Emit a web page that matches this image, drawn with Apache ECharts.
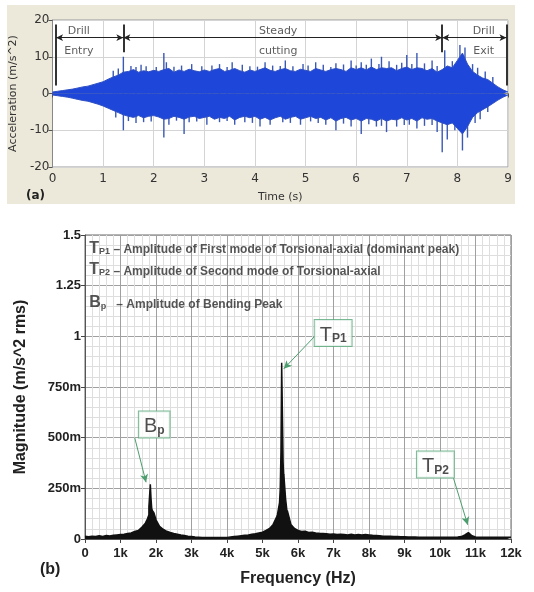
<!DOCTYPE html>
<html>
<head>
<meta charset="utf-8">
<script src="https://cdn.jsdelivr.net/npm/echarts@6/dist/echarts.min.js"></script>
<style>
  body { margin: 0; background: #fff; }
  #main { width: 534px; height: 592px; }
</style>
</head>
<body>
<div id="main"></div>
<script>
// (a) time signal, one sample every 0.1 s from 0 to 9 s
let timeStep = 0.1
let coreUpper = [
  0.4, 0.6, 0.8, 1.0, 1.2, 1.5, 1.8, 2.0, 2.4, 2.8,
  3.2, 3.9, 4.5, 5.0, 5.8, 6.0, 6.5, 5.8, 6.2, 5.9,
  6.3, 6.0, 6.5, 6.8, 5.8, 6.4, 6.0, 6.6, 6.2, 5.9,
  6.4, 6.0, 6.5, 6.8, 6.0, 6.3, 6.8, 6.2, 5.8, 6.4,
  6.0, 6.5, 7.0, 6.3, 6.0, 6.5, 6.8, 6.2, 6.0, 6.6,
  6.3, 6.0, 6.8, 6.4, 6.0, 6.5, 6.8, 6.5, 6.0, 7.0,
  6.5, 7.0, 6.4, 7.2, 6.5, 7.0, 6.8, 7.0, 6.2, 6.8,
  7.2, 6.5, 7.0, 6.8, 6.2, 6.8, 5.8, 6.5, 7.5, 7.0,
  9.0, 11.0, 8.0, 6.0, 5.0, 4.2, 3.8, 2.8, 1.8, 1.0,
  0.4
]
let coreLower = [
  -0.4, -0.6, -0.8, -1.0, -1.3, -1.6, -1.9, -2.1, -2.5, -2.9,
  -3.4, -4.0, -4.6, -5.2, -5.8, -6.2, -6.5, -6.0, -6.6, -6.2,
  -6.0, -6.4, -7.0, -6.8, -6.2, -6.5, -7.0, -6.4, -6.2, -6.8,
  -6.5, -6.2, -7.0, -6.5, -6.8, -6.2, -7.2, -6.5, -6.2, -6.6,
  -6.2, -7.0, -6.5, -7.2, -6.6, -6.2, -7.0, -6.5, -6.2, -7.0,
  -6.6, -6.2, -6.8, -6.5, -7.2, -6.6, -7.5, -6.8, -6.5, -7.2,
  -6.8, -7.5, -6.8, -7.0, -7.5, -6.8, -7.5, -7.0, -7.2, -6.6,
  -7.2, -6.8, -7.5, -6.6, -7.0, -6.8, -7.5, -8.0, -8.5, -8.0,
  -9.5, -11.0, -9.0, -6.5, -5.2, -4.4, -3.6, -2.7, -1.8, -1.0,
  -0.4
]
let spikesUp = [
  [1.2, 6.2], [1.3, 6.8], [1.4, 10], [1.55, 7.5], [1.65, 7.2], [1.75, 7.8],
  [1.85, 7.4], [2.05, 7.2], [2.2, 11], [2.25, 8.5], [2.4, 7.3], [2.55, 7.6],
  [2.75, 8], [2.95, 7.4], [3.15, 7.6], [3.3, 8], [3.45, 7.2], [3.55, 8.5],
  [3.75, 7.8], [3.9, 7.4], [4.05, 7.3], [4.2, 8.5], [4.35, 7.6], [4.5, 7.5],
  [4.6, 9], [4.75, 7.4], [4.95, 8], [5.05, 7.6], [5.2, 8.5], [5.35, 7.8],
  [5.5, 7.2], [5.6, 8.2], [5.75, 7.9], [5.9, 9], [6.0, 7.6], [6.1, 8.5],
  [6.2, 7.8], [6.3, 9.5], [6.45, 8], [6.5, 10], [6.65, 8.8], [6.8, 7.8],
  [6.9, 8.4], [7.0, 10.5], [7.1, 8], [7.2, 11], [7.35, 8.2], [7.5, 9],
  [7.6, 7.5], [7.75, 11.8], [7.9, 8.8], [8.05, 13.2], [8.15, 12.5], [8.3, 8],
  [8.4, 7], [8.55, 6], [8.7, 4.5]
]
let spikesDown = [
  [1.25, -6.5], [1.4, -10], [1.5, -7.5], [1.65, -8], [1.8, -7.8], [1.95, -7.6],
  [2.2, -12], [2.3, -8.5], [2.45, -7.4], [2.6, -11], [2.7, -7.8], [2.85, -7.6],
  [3.05, -8.5], [3.3, -7.8], [3.45, -7.5], [3.6, -8.5], [3.8, -7.8], [3.95, -8],
  [4.1, -9], [4.3, -8.5], [4.55, -7.8], [4.7, -8], [4.9, -8.5], [5.1, -7.6],
  [5.25, -8], [5.4, -8.5], [5.6, -10], [5.75, -8.2], [5.9, -9], [6.1, -11],
  [6.25, -8.4], [6.4, -9], [6.5, -8.8], [6.6, -10.5], [6.8, -9], [6.95, -8.6],
  [7.05, -8.5], [7.2, -9.5], [7.35, -8.8], [7.5, -8.6], [7.6, -10.5], [7.7, -16],
  [7.8, -12.5], [7.95, -10], [8.1, -15.5], [8.2, -12], [8.35, -8], [8.45, -7],
  [8.6, -5]
]
let timeTicks = [0, 1, 2, 3, 4, 5, 6, 7, 8, 9]
let phaseBounds = [0.07, 1.4, 7.7, 8.97]
let phaseLabels = [
  ['Drill', 'Entry', 0.52],
  ['Steady', 'cutting', 4.46],
  ['Drill', 'Exit', 8.52]
]

// (b) spectrum, one value every 100 Hz from 0 to 12 kHz
let freqStep = 100
let specBase = [
  0.014, 0.011, 0.014, 0.012, 0.016, 0.013, 0.017, 0.015, 0.018, 0.020,
  0.022, 0.024, 0.027, 0.030, 0.037, 0.042, 0.058, 0.078, 0.120, 0.140,
  0.095, 0.062, 0.048, 0.038, 0.032, 0.027, 0.024, 0.020, 0.017, 0.014,
  0.012, 0.010, 0.009, 0.008, 0.008, 0.007, 0.007, 0.007, 0.007, 0.008,
  0.008, 0.010, 0.012, 0.014, 0.016, 0.018, 0.020, 0.023, 0.026, 0.030,
  0.034, 0.042, 0.052, 0.072, 0.110, 0.250, 0.300, 0.120, 0.072, 0.052,
  0.042, 0.037, 0.038, 0.032, 0.033, 0.030, 0.028, 0.027, 0.026, 0.024,
  0.025, 0.022, 0.023, 0.022, 0.020, 0.023, 0.020, 0.022, 0.020, 0.022,
  0.020, 0.018, 0.017, 0.016, 0.014, 0.014, 0.013, 0.012, 0.012, 0.011,
  0.011, 0.010, 0.010, 0.010, 0.009, 0.009, 0.009, 0.009, 0.009, 0.009,
  0.009, 0.009, 0.009, 0.009, 0.009, 0.010, 0.012, 0.020, 0.032, 0.016,
  0.010, 0.009, 0.009, 0.009, 0.009, 0.009, 0.009, 0.009, 0.009, 0.009,
  0.009
]
let specPeaks = [
  [1760, 0.10], [1800, 0.16], [1840, 0.27], [1860, 0.20], [1880, 0.15], [1940, 0.13],
  [5420, 0.12], [5480, 0.18], [5520, 0.43], [5540, 0.87], [5580, 0.38], [5600, 0.32],
  [5650, 0.20], [5700, 0.14]
]
let legendLines = [
  ['T', 'P1', ' – Amplitude of First mode of Torsional-axial (dominant peak)', 1.44],
  ['T', 'P2', ' – Amplitude of Second mode of Torsional-axial', 1.336],
  ['B', 'p', '   – Amplitude of Bending Peak', 1.169]
]
// box centre [Hz, mag], arrow start, arrow end
let peakNotes = [
  ['T', 'P1', [6990, 1.016], [6470, 1.0], [5600, 0.84]],
  ['B', 'p', [1950, 0.565], [1400, 0.5], [1720, 0.28]],
  ['T', 'P2', [9870, 0.368], [10380, 0.3], [10780, 0.07]]
]

let myChart = echarts.init(document.getElementById('main'))

let upData = coreUpper.map((v, i) => [+(i * timeStep).toFixed(2), v])
let loData = coreLower.map((v, i) => [+(i * timeStep).toFixed(2), v])
let specData = specBase.map((v, i) => [i * freqStep, v]).concat(specPeaks)
specData.sort((a, b) => a[0] - b[0])

let sansA = 'DejaVu Sans'
let sansB = 'Liberation Sans'

let phaseMarks = []
phaseBounds.forEach((t, i) => {
  let low = (i === 0 || i === 3) ? 2.2 : 11.2
  phaseMarks.push([{ coord: [t, 18.8] }, { coord: [t, low] }])
})
let arrowMarks = []
for (let i = 0; i < 3; i++) {
  arrowMarks.push([{ coord: [phaseBounds[i], 15.2] }, { coord: [phaseBounds[i + 1], 15.2] }])
}
let phaseText = []
phaseLabels.forEach(p => {
  phaseText.push({ value: [p[2], 17.0], name: p[0] })
  phaseText.push({ value: [p[2], 11.6], name: p[1] })
})

function spikeRender (params, api) {
  let a = api.coord([api.value(0), 0])
  let b = api.coord([api.value(0), api.value(1)])
  return {
    type: 'line',
    shape: { x1: a[0], y1: a[1], x2: b[0], y2: b[1] },
    style: { stroke: '#3a58b4', lineWidth: 1.4 }
  }
}

let subRich = {
  big: { fontFamily: sansB, fontWeight: 'bold', fontSize: 16, color: '#2a2a2a', verticalAlign: 'bottom', lineHeight: 18 },
  sub: { fontFamily: sansB, fontWeight: 'bold', fontSize: 9, color: '#2a2a2a', verticalAlign: 'bottom', lineHeight: 14 },
  txt: { fontFamily: sansB, fontWeight: 'bold', fontSize: 12, color: '#2a2a2a', verticalAlign: 'bottom', lineHeight: 16 }
}
let boxRich = {
  big: { fontFamily: sansB, fontSize: 20, color: '#222', verticalAlign: 'bottom', lineHeight: 22 },
  sub: { fontFamily: sansB, fontWeight: 'bold', fontSize: 12, color: '#222', verticalAlign: 'bottom', lineHeight: 17 }
}

let option = {
  animation: false,
  backgroundColor: '#fff',
  graphic: [
    { type: 'rect', z: -10, shape: { x: 7, y: 5, width: 508, height: 199 }, style: { fill: '#ece9da' } },
    { type: 'text', left: 26, top: 190, style: { text: '(a)', font: 'bold 12px "DejaVu Sans"', fill: '#222' } },
    { type: 'text', left: 40, top: 562, style: { text: '(b)', font: 'bold 16px "Liberation Sans"', fill: '#222' } }
  ],
  grid: [
    { left: 52, right: 26, top: 20, height: 147, show: true, backgroundColor: '#fff', borderColor: '#9a9a9a', borderWidth: 1 },
    { left: 85, right: 23, top: 235, height: 304, show: true, backgroundColor: '#fff', borderColor: '#6a6a6a', borderWidth: 1 }
  ],
  xAxis: [
    {
      gridIndex: 0,
      type: 'value',
      min: 0,
      max: 9,
      interval: 1,
      name: 'Time (s)',
      nameLocation: 'middle',
      nameGap: 25,
      nameTextStyle: { fontFamily: sansA, fontSize: 11, color: '#333' },
      axisLine: { lineStyle: { color: '#888' } },
      axisTick: { length: 4, lineStyle: { color: '#555' } },
      axisLabel: { fontFamily: sansA, fontSize: 12, color: '#333', margin: 6,
        formatter: v => timeTicks.indexOf(v) >= 0 ? String(v) : '' },
      splitLine: { lineStyle: { color: '#d4d4d4' } }
    },
    {
      gridIndex: 1,
      type: 'value',
      min: 0,
      max: 12000,
      interval: 1000,
      name: 'Frequency (Hz)',
      nameLocation: 'middle',
      nameGap: 32,
      nameTextStyle: { fontFamily: sansB, fontWeight: 'bold', fontSize: 16, color: '#222' },
      axisLine: { lineStyle: { color: '#555' } },
      axisTick: { length: 4, lineStyle: { color: '#444' } },
      axisLabel: { fontFamily: sansB, fontWeight: 'bold', fontSize: 13, color: '#222', margin: 8,
        formatter: v => v === 0 ? '0' : (v / 1000) + 'k' },
      minorTick: { show: false, splitNumber: 5 },
      splitLine: { lineStyle: { color: '#a0a0a0' } },
      minorSplitLine: { show: true, lineStyle: { color: '#dedede' } }
    }
  ],
  yAxis: [
    {
      gridIndex: 0,
      type: 'value',
      min: -20,
      max: 20,
      interval: 10,
      name: 'Acceleration (m/s^2)',
      nameLocation: 'middle',
      nameGap: 31,
      nameTextStyle: { fontFamily: sansA, fontSize: 11, color: '#333' },
      axisLine: { show: true, lineStyle: { color: '#888' } },
      axisTick: { show: true, length: 4, lineStyle: { color: '#555' } },
      axisLabel: { fontFamily: sansA, fontSize: 12, color: '#333', margin: 3 },
      splitLine: { lineStyle: { color: '#d4d4d4' } }
    },
    {
      gridIndex: 1,
      type: 'value',
      min: 0,
      max: 1.5,
      interval: 0.25,
      name: 'Magnitude (m/s^2 rms)',
      nameLocation: 'middle',
      nameGap: 56,
      nameTextStyle: { fontFamily: sansB, fontWeight: 'bold', fontSize: 16, color: '#222' },
      axisLine: { show: true, lineStyle: { color: '#555' } },
      axisTick: { show: true, length: 4, lineStyle: { color: '#444' } },
      axisLabel: { fontFamily: sansB, fontWeight: 'bold', fontSize: 13, color: '#222', margin: 4,
        formatter: v => v === 0 ? '0' : (v >= 1 ? String(v) : Math.round(v * 1000) + 'm') },
      minorTick: { show: false, splitNumber: 5 },
      splitLine: { lineStyle: { color: '#a0a0a0' } },
      minorSplitLine: { show: true, lineStyle: { color: '#dedede' } }
    }
  ],
  series: [
    {
      type: 'line',
      xAxisIndex: 0,
      yAxisIndex: 0,
      data: upData,
      symbol: 'none',
      lineStyle: { color: '#2f50c4', width: 1 },
      areaStyle: { color: '#1e46d8', opacity: 1, origin: 0 },
      silent: true
    },
    {
      type: 'line',
      xAxisIndex: 0,
      yAxisIndex: 0,
      data: loData,
      symbol: 'none',
      lineStyle: { color: '#2f50c4', width: 1 },
      areaStyle: { color: '#1e46d8', opacity: 1, origin: 0 },
      silent: true
    },
    {
      type: 'custom',
      xAxisIndex: 0,
      yAxisIndex: 0,
      data: spikesUp.concat(spikesDown),
      renderItem: spikeRender,
      silent: true
    },
    {
      type: 'scatter',
      xAxisIndex: 0,
      yAxisIndex: 0,
      data: phaseText,
      symbolSize: 0,
      silent: true,
      label: { show: true, position: 'inside', formatter: '{b}', fontFamily: sansA, fontSize: 11, color: '#333' },
      markLine: {
        silent: true,
        symbol: ['none', 'none'],
        label: { show: false },
        lineStyle: { color: '#333', width: 2, type: 'solid' },
        data: phaseMarks
      }
    },
    {
      type: 'line',
      xAxisIndex: 0,
      yAxisIndex: 0,
      data: [],
      markLine: {
        silent: true,
        symbol: ['arrow', 'arrow'],
        symbolSize: [5, 7],
        label: { show: false },
        lineStyle: { color: '#222', width: 1, type: 'solid' },
        data: arrowMarks
      }
    },
    {
      type: 'line',
      xAxisIndex: 1,
      yAxisIndex: 1,
      data: specData,
      symbol: 'none',
      lineStyle: { color: '#111', width: 1.5 },
      areaStyle: { color: '#111', opacity: 1 },
      silent: true
    },
    {
      type: 'scatter',
      xAxisIndex: 1,
      yAxisIndex: 1,
      symbolSize: 0,
      silent: true,
      data: legendLines.map(l => ({ value: [120, l[3]], name: l[0] + '|' + l[1] + '|' + l[2] })),
      label: {
        show: true,
        position: 'right',
        distance: 0,
        formatter: p => {
          let s = p.name.split('|')
          return '{big|' + s[0] + '}{sub|' + s[1] + '}{txt|' + s[2] + '}'
        },
        rich: subRich
      }
    },
    {
      type: 'scatter',
      xAxisIndex: 1,
      yAxisIndex: 1,
      symbolSize: 0,
      silent: true,
      z: 5,
      data: peakNotes.map(n => ({ value: n[2], name: n[0] + '|' + n[1] })),
      label: {
        show: true,
        position: 'inside',
        formatter: p => {
          let s = p.name.split('|')
          return '{big|' + s[0] + '}{sub|' + s[1] + '}'
        },
        rich: boxRich,
        backgroundColor: '#fff',
        borderColor: '#5aa77a',
        borderWidth: 1,
        padding: [3, 5, 1, 5]
      },
      markLine: {
        silent: true,
        symbol: ['none', 'arrow'],
        symbolSize: [6, 8],
        label: { show: false },
        lineStyle: { color: '#4d9e6e', width: 1, type: 'solid' },
        data: peakNotes.map(n => [{ coord: n[3] }, { coord: n[4] }])
      }
    }
  ]
}
myChart.setOption(option)
</script>
</body>
</html>
